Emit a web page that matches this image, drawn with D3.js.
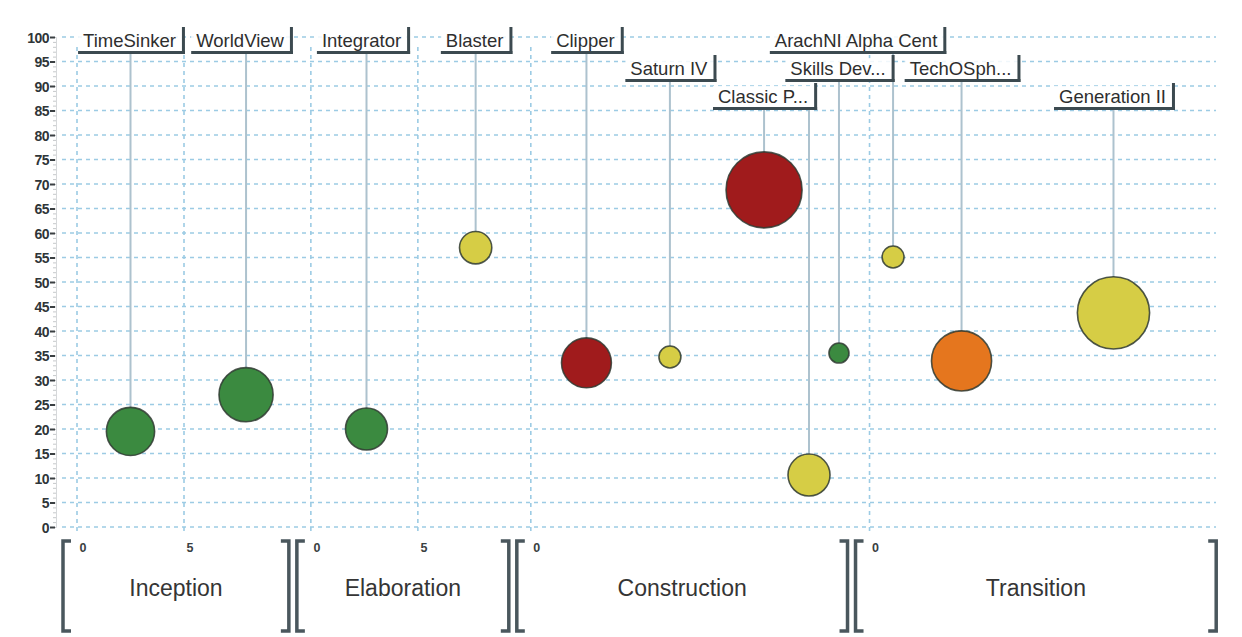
<!DOCTYPE html>
<html>
<head>
<meta charset="utf-8">
<script src="https://cdnjs.cloudflare.com/ajax/libs/d3/7.8.5/d3.min.js"></script>
<style>
    body { margin: 0; background: #ffffff; }
    #chart { width: 1242px; height: 637px; }
    text { font-family: "Liberation Sans", Arial, sans-serif; }
</style>
</head>
<body>
<div id="chart"></div>
<script>
// phases (x panels)
const phases = ["Inception", "Elaboration", "Construction", "Transition"];
const phaseSpans = [9.9, 9.25, 14.8, 16.2];
const phaseTicks = [[0, 5], [0, 5], [0], [0]];

// y axis ticks
const yTicks = [0, 5, 10, 15, 20, 25, 30, 35, 40, 45, 50, 55, 60, 65, 70, 75, 80, 85, 90, 95, 100];

// projects
const projectNames = ["TimeSinker", "WorldView", "Integrator", "Blaster", "Clipper", "Saturn IV",
    "Classic P...", "", "Skills Dev...", "ArachNI Alpha Cent", "TechOSph...", "Generation II"];
const projectPhase = ["Inception", "Inception", "Elaboration", "Elaboration", "Construction", "Construction",
    "Construction", "Construction", "Construction", "Transition", "Transition", "Transition"];
const projectX = [2.5, 7.9, 2.6, 7.7, 2.6, 6.5, 10.9, 13.0, 14.4, 1.1, 4.3, 11.4];
const projectY = [19.5, 27, 20, 57, 33.5, 34.7, 68.8, 10.6, 35.5, 55.1, 33.9, 43.7];
const projectSize = [58, 73, 44, 26, 62, 12, 144, 44, 10, 12, 90, 130];
const projectStatus = ["green", "green", "green", "yellow", "red", "yellow",
    "red", "yellow", "green", "yellow", "orange", "yellow"];

class BubbleTimeline {

    constructor(parentElement) {
        this.parentElement = parentElement;
        this.initVis();
    }

    initVis() {
        let vis = this;

        vis.width = 1242;
        vis.height = 637;
        vis.unit = 21.4;

        vis.svg = d3.select("#" + vis.parentElement).append("svg")
            .attr("width", vis.width)
            .attr("height", vis.height);

        vis.y = d3.scaleLinear().domain([0, 100]).range([527, 37]);

        vis.r = d3.scaleSqrt().domain([0, 144]).range([0, 38]);

        vis.color = d3.scaleOrdinal()
            .domain(["green", "yellow", "orange", "red"])
            .range(["#3b8a40", "#d6cd45", "#e5761e", "#a01b1c"]);

        // one x scale per phase panel
        let pos = 63;
        vis.panels = phases.map((p, i) => {
            let left = pos,
                zero = pos + 14,
                right = zero + phaseSpans[i] * vis.unit;
            pos = right + 8;
            return {
                name: p, left: left, zero: zero, right: right, ticks: phaseTicks[i],
                x: d3.scaleLinear().domain([0, phaseSpans[i]]).range([zero, right])
            };
        });
        vis.panelByName = {};
        vis.panels.forEach(d => vis.panelByName[d.name] = d);

        // horizontal grid
        vis.svg.append("g")
            .attr("class", "grid")
            .selectAll("line")
            .data(yTicks)
            .enter().append("line")
            .attr("x1", 62)
            .attr("x2", 1216)
            .attr("y1", d => vis.y(d))
            .attr("y2", d => vis.y(d))
            .attr("stroke", "#9ccbe4")
            .attr("stroke-width", 1.6)
            .attr("stroke-dasharray", "4,4");

        // vertical grid at panel ticks
        vis.panels.forEach(function (panel) {
            vis.svg.append("g")
                .selectAll("line")
                .data(panel.ticks)
                .enter().append("line")
                .attr("x1", d => panel.x(d))
                .attr("x2", d => panel.x(d))
                .attr("y1", vis.y(100) + 10)
                .attr("y2", vis.y(0) + 5)
                .attr("stroke", "#9ccbe4")
                .attr("stroke-width", 1.6)
                .attr("stroke-dasharray", "4,4");
        });

        // y axis: minor ticks
        let minor = vis.svg.append("g")
            .attr("transform", "translate(56,0)")
            .call(d3.axisLeft(vis.y).ticks(100).tickSize(3).tickFormat(""));
        minor.selectAll("line").attr("stroke", "#c5c8ca");
        minor.select(".domain").attr("stroke", "#d6d8da");

        // y axis: major ticks and labels
        let major = vis.svg.append("g")
            .attr("transform", "translate(55,0)")
            .call(d3.axisLeft(vis.y).tickValues(yTicks).tickSize(5).tickPadding(1));
        major.select(".domain").remove();
        major.selectAll("line").attr("stroke", "#3a3f42").attr("stroke-width", 2);
        major.selectAll("text")
            .style("font-size", "14px")
            .style("font-weight", "bold")
            .style("letter-spacing", "-0.5px")
            .attr("fill", "#2f3538")
            .attr("dy", "0.36em");

        // phase brackets and labels
        let bTop = 541, bBot = 631;
        vis.panels.forEach(function (panel) {
            let g = vis.svg.append("g").attr("class", "phase");
            g.append("path")
                .attr("d", `M${panel.left + 8},${bTop} H${panel.left} V${bBot} H${panel.left + 8}`)
                .attr("fill", "none")
                .attr("stroke", "#4a575d")
                .attr("stroke-width", 3.5);
            g.append("path")
                .attr("d", `M${panel.right - 8},${bTop} H${panel.right} V${bBot} H${panel.right - 8}`)
                .attr("fill", "none")
                .attr("stroke", "#4a575d")
                .attr("stroke-width", 3.5);
            g.selectAll(".tick-label")
                .data(panel.ticks)
                .enter().append("text")
                .attr("class", "tick-label")
                .attr("x", d => panel.x(d) + 6)
                .attr("y", 552)
                .attr("text-anchor", "middle")
                .style("font-size", "12.5px")
                .style("font-weight", "bold")
                .attr("fill", "#3a3f42")
                .text(d => d);
            g.append("text")
                .attr("x", (panel.left + panel.right) / 2)
                .attr("y", 596)
                .attr("text-anchor", "middle")
                .style("font-size", "23px")
                .attr("fill", "#353535")
                .text(panel.name);
        });

        vis.leaderGroup = vis.svg.append("g").attr("class", "leaders");
        vis.bubbleGroup = vis.svg.append("g").attr("class", "bubbles");
        vis.labelGroup = vis.svg.append("g").attr("class", "labels");

        this.wrangleData();
    }

    wrangleData() {
        let vis = this;

        // label tiers (row of the label box) and small shifts
        let tier = {
            "TimeSinker": 0, "WorldView": 0, "Integrator": 0, "Blaster": 0, "Clipper": 0,
            "ArachNI Alpha Cent": 0, "Saturn IV": 1, "Skills Dev...": 1, "TechOSph...": 1,
            "Classic P...": 2, "Generation II": 2, "": 2
        };
        let shift = {"ArachNI Alpha Cent": -36, "WorldView": -5, "Integrator": -4};

        vis.displayData = projectNames.map((name, i) => {
            let panel = vis.panelByName[projectPhase[i]];
            return {
                name: name,
                cx: panel.x(projectX[i]),
                cy: vis.y(projectY[i]),
                r: vis.r(projectSize[i]),
                status: projectStatus[i],
                tier: tier[name],
                shift: shift[name] || 0
            };
        });

        vis.updateVis();
    }

    updateVis() {
        let vis = this;
        let tierY = [52, 80, 108];

        // leader lines
        vis.leaderGroup.selectAll("line")
            .data(vis.displayData)
            .enter().append("line")
            .attr("x1", d => d.cx)
            .attr("x2", d => d.cx)
            .attr("y1", d => tierY[d.tier] + 2)
            .attr("y2", d => d.cy)
            .attr("stroke", "#adc2ce")
            .attr("stroke-width", 2);

        // bubbles, big ones first
        let sorted = vis.displayData.slice().sort((a, b) => b.r - a.r);
        vis.bubbleGroup.selectAll("circle")
            .data(sorted)
            .enter().append("circle")
            .attr("cx", d => d.cx)
            .attr("cy", d => d.cy)
            .attr("r", d => d.r)
            .attr("fill", d => vis.color(d.status))
            .attr("stroke", "#2f3a31")
            .attr("stroke-opacity", 0.85)
            .attr("stroke-width", 1.6);

        // label boxes
        let labels = vis.labelGroup.selectAll("g")
            .data(vis.displayData.filter(d => d.name !== ""))
            .enter().append("g");

        labels.append("text")
            .attr("y", d => tierY[d.tier] - 5)
            .style("font-size", "18.5px")
            .attr("fill", "#2e2e2e")
            .text(d => d.name)
            .each(function (d) {
                d.tw = this.getComputedTextLength();
                d.left = d.cx + d.shift - (d.tw + 12) / 2;
                d.right = d.left + d.tw + 12;
            })
            .attr("x", d => d.left + 5);

        labels.insert("rect", "text")
            .attr("x", d => d.left)
            .attr("y", d => tierY[d.tier] - 22)
            .attr("width", d => d.right - d.left)
            .attr("height", 22)
            .attr("fill", "#ffffff")
            .attr("fill-opacity", 0.85);

        labels.append("rect")
            .attr("x", d => d.left)
            .attr("y", d => tierY[d.tier] - 1)
            .attr("width", d => d.right - d.left + 2)
            .attr("height", 3)
            .attr("fill", "#3c4a50");

        labels.append("rect")
            .attr("x", d => d.right - 1)
            .attr("y", d => tierY[d.tier] - 25)
            .attr("width", 3)
            .attr("height", 27)
            .attr("fill", "#3c4a50");
    }
}

new BubbleTimeline("chart");
</script>
</body>
</html>
